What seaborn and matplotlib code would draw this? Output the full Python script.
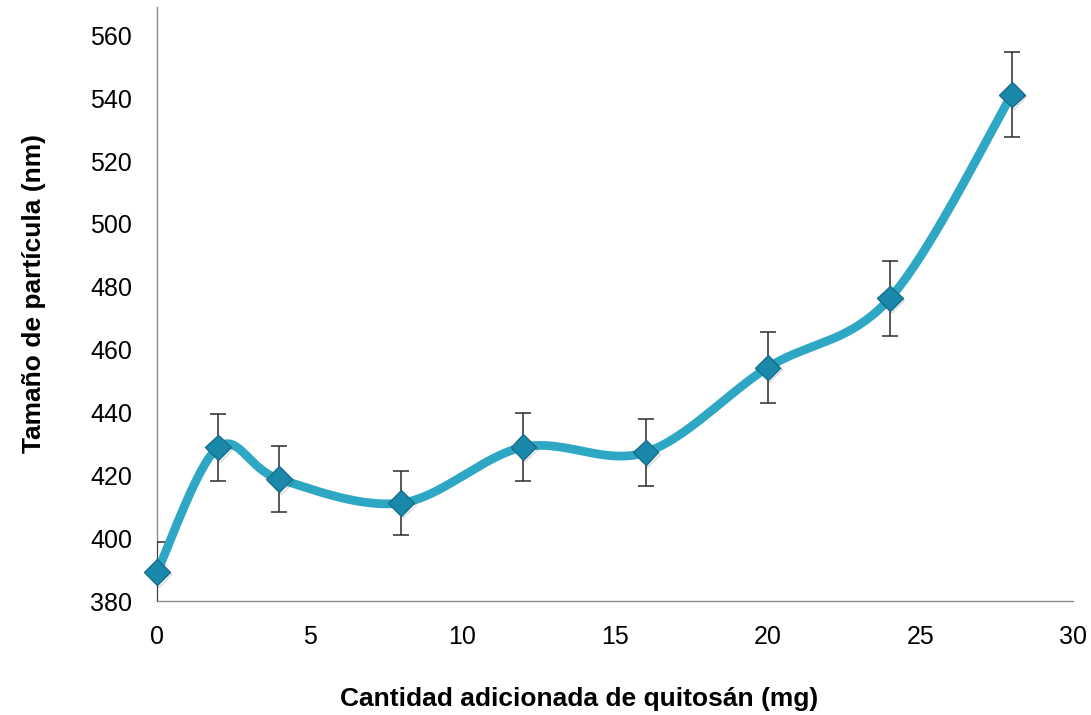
import numpy as np
import pandas as pd
import matplotlib
matplotlib.use('Agg')
import matplotlib.pyplot as plt
import matplotlib.patheffects as pe
import seaborn as sns

# data
quitosan_mg = [0, 2, 4, 8, 12, 16, 20, 24, 28]
tamano_nm = [389.2, 428.9, 418.8, 411.2, 429.0, 427.3, 454.3, 476.3, 541.2]
error_nm = [9.7, 10.7, 10.5, 10.3, 10.7, 10.7, 11.4, 11.9, 13.5]

df = pd.DataFrame({'x': quitosan_mg, 'y': tamano_nm, 'err': error_nm})


def smooth_curve(xs, ys, n=40):
    # Excel-style smoothed line: Catmull-Rom bezier through the points
    p = np.column_stack([xs, ys]).astype(float)
    p = np.vstack([p[0], p, p[-1]])
    out = []
    for i in range(1, len(p) - 2):
        p0, p1, p2, p3 = p[i - 1], p[i], p[i + 1], p[i + 2]
        c1 = p1 + (p2 - p0) / 6
        c2 = p2 - (p3 - p1) / 6
        t = np.linspace(0, 1, n)[:, None]
        seg = ((1 - t) ** 3) * p1 + 3 * ((1 - t) ** 2) * t * c1 + 3 * (1 - t) * t ** 2 * c2 + t ** 3 * p2
        out.append(seg if i == 1 else seg[1:])
    out = np.vstack(out)
    return out[:, 0], out[:, 1]


sns.set_theme(style='white')
plt.rcParams['font.family'] = ['Liberation Sans', 'DejaVu Sans']

fig = plt.figure(figsize=(10.91, 7.15), dpi=100)
ax = fig.add_axes([0.1439, 0.1594, 0.8396, 0.8306])

cx, cy = smooth_curve(df['x'], df['y'])
sns.lineplot(x=cx, y=cy, ax=ax, color='#2ea7c4', linewidth=6.3, sort=False,
             solid_capstyle='round', zorder=2)

ax.errorbar(df['x'], df['y'], yerr=df['err'], fmt='none', ecolor='#2b2b2b',
            elinewidth=1.1, capsize=5.5, capthick=1.1, zorder=3)

ax.plot(df['x'], df['y'], linestyle='none', marker='D', markersize=13,
        markerfacecolor='#1a88aa', markeredgecolor='#186f8a', markeredgewidth=1.0,
        zorder=4, clip_on=False,
        path_effects=[pe.SimpleLineShadow(offset=(1.2, -1.2), alpha=0.15, shadow_color='black'),
                      pe.Normal()])

ax.set_xlim(0, 30)
ax.set_ylim(380, 569)
ax.set_xticks([0, 5, 10, 15, 20, 25, 30])
ax.set_yticks(np.arange(380, 561, 20))

for s in ['top', 'right']:
    ax.spines[s].set_visible(False)
for s in ['left', 'bottom']:
    ax.spines[s].set_color('#8c8c8c')
    ax.spines[s].set_linewidth(1.0)

ax.tick_params(axis='both', length=0, labelsize=18, colors='#000000')
ax.tick_params(axis='y', pad=18)
ax.tick_params(axis='x', pad=17)

ax.set_xlabel('Cantidad adicionada de quitosán (mg)', fontsize=19, fontweight='bold',
              labelpad=27, color='#000000')
ax.set_ylabel('Tamaño de partícula (nm)', fontsize=19, fontweight='bold',
              labelpad=32, color='#000000')
ax.xaxis.set_label_coords(0.461, -0.145)
ax.yaxis.label.set_y(0.5185)
ax.grid(False)

fig.savefig('out.png', dpi=100)
